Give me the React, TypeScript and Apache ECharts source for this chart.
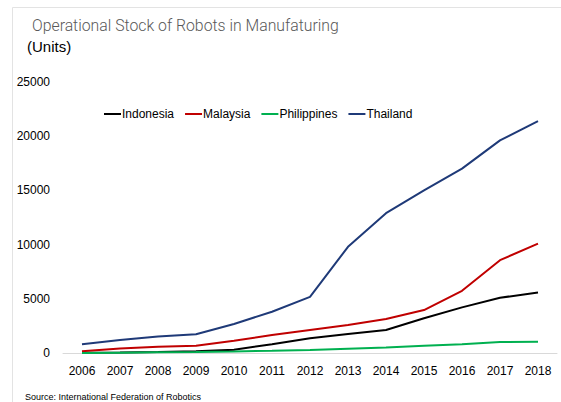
import React, { useEffect, useRef } from "react";
import * as echarts from "echarts";

const years = ["2006","2007","2008","2009","2010","2011","2012","2013","2014","2015","2016","2017","2018"];
const indonesia = [60, 80, 120, 180, 330, 830, 1380, 1770, 2140, 3220, 4230, 5110, 5600];
const malaysia = [180, 450, 600, 700, 1150, 1680, 2140, 2600, 3150, 3980, 5750, 8570, 10100];
const philippines = [30, 60, 90, 120, 170, 230, 300, 420, 540, 700, 830, 1030, 1060];
const thailand = [830, 1220, 1540, 1750, 2700, 3820, 5200, 9800, 12900, 15000, 17000, 19600, 21380];

const titleText = "Operational Stock of Robots in Manufaturing";
const unitText = "(Units)";
const sourceText = "Source: International Federation of Robotics";

export default function App() {
  const ref = useRef<HTMLDivElement>(null);
  useEffect(() => {
    if (!ref.current) return;
    const chart = echarts.init(ref.current, null, { renderer: "svg" });
    const font = "Arial, 'Liberation Sans', sans-serif";
    const mk = (name: string, data: number[], color: string) => ({
      name,
      type: "line",
      data,
      symbol: "none",
      lineStyle: { color, width: 2 },
      itemStyle: { color },
    });
    chart.setOption({
      animation: false,
      backgroundColor: "#ffffff",
      textStyle: { fontFamily: font },
      graphic: [
        {
          type: "rect",
          shape: { x: 12.5, y: 7.5, width: 700, height: 600 },
          style: { fill: "none", stroke: "#e3e3e3", lineWidth: 1 },
          silent: true,
        },
        {
          type: "text",
          x: 32,
          y: 25.5,
          style: {
            text: titleText,
            font: "300 15.8px Roboto, sans-serif",
            fill: "#595959",
            verticalAlign: "middle",
          },
        },
        {
          type: "text",
          x: 27,
          y: 46,
          style: {
            text: unitText,
            font: "15px " + font,
            fill: "#000000",
            verticalAlign: "middle",
          },
        },
        {
          type: "text",
          x: 25,
          y: 397,
          style: {
            text: sourceText,
            font: "9px " + font,
            fill: "#000000",
            verticalAlign: "middle",
          },
        },
      ],
      legend: {
        left: 99,
        top: 103,
        icon: "rect",
        itemWidth: 17,
        itemHeight: 2,
        itemGap: 11,
        textStyle: { fontSize: 12, color: "#000", fontFamily: font, padding: [0, 0, 0, -4] },
        data: ["Indonesia", "Malaysia", "Philippines", "Thailand"],
      },
      grid: { left: 63, right: 4, top: 81.7, bottom: 48.7, containLabel: false },
      xAxis: {
        type: "category",
        data: years,
        boundaryGap: true,
        axisLine: { lineStyle: { color: "#d9d9d9", width: 1 } },
        axisTick: { show: false },
        axisLabel: { color: "#000", fontSize: 12, margin: 12, fontFamily: font },
        splitLine: { show: false },
      },
      yAxis: {
        type: "value",
        min: 0,
        max: 25000,
        interval: 5000,
        axisLine: { show: false },
        axisTick: { show: false },
        splitLine: { show: false },
        axisLabel: {
          color: "#000",
          fontSize: 12,
          margin: 13,
          fontFamily: font,
          formatter: (v: number) => String(v),
        },
      },
      series: [
        mk("Indonesia", indonesia, "#000000"),
        mk("Malaysia", malaysia, "#c00000"),
        mk("Philippines", philippines, "#00b050"),
        mk("Thailand", thailand, "#1f3a78"),
      ],
    });
    return () => chart.dispose();
  }, []);
  return (
    <div
      ref={ref}
      style={{ position: "absolute", left: 0, top: 0, width: 561, height: 402 }}
    />
  );
}
